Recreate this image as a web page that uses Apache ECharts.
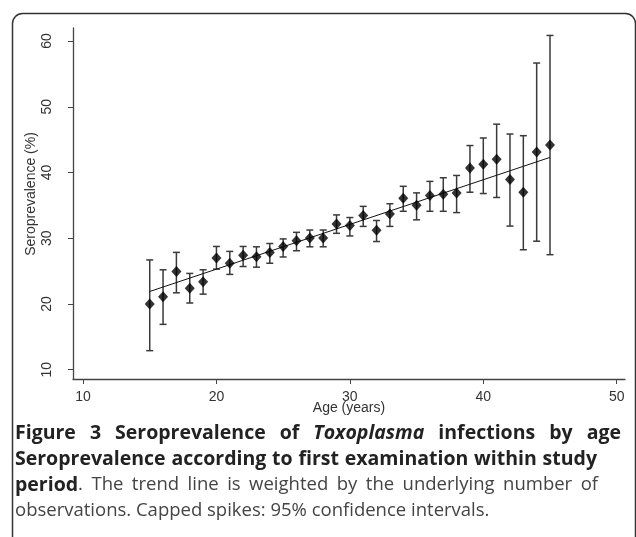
<!DOCTYPE html>
<html>
<head>
<meta charset="utf-8">
<script src="https://cdn.jsdelivr.net/npm/echarts@6/dist/echarts.min.js"></script>
<style>
  html, body { margin: 0; padding: 0; background: #fff; }
  #chart { width: 636px; height: 537px; }
</style>
</head>
<body>
<div id="chart"></div>
<script>
// 年龄（岁）
var ages = [15, 16, 17, 18, 19, 20, 21, 22, 23, 24, 25, 26, 27, 28, 29, 30,
            31, 32, 33, 34, 35, 36, 37, 38, 39, 40, 41, 42, 43, 44, 45];
// 血清阳性率 (%)
var prevalence = [20.0, 21.1, 24.95, 22.4, 23.4, 27.0, 26.2, 27.4, 27.2, 27.85, 28.75, 29.6, 30.05, 30.05, 32.15, 31.95,
                  33.45, 31.2, 33.7, 36.1, 35.0, 36.5, 36.7, 36.9, 40.7, 41.25, 42.0, 38.95, 37.0, 43.1, 44.2];
// 95% 置信区间
var ciLower = [12.9, 16.9, 21.7, 20.15, 21.5, 25.3, 24.5, 25.7, 25.6, 26.2, 27.15, 28.1, 28.7, 28.7, 30.75, 30.35,
               31.8, 29.5, 31.8, 34.1, 32.8, 34.1, 34.1, 33.9, 37.0, 36.8, 36.2, 31.85, 28.25, 29.55, 27.5];
var ciUpper = [26.7, 25.2, 27.85, 24.65, 25.2, 28.75, 28.0, 28.75, 28.7, 29.2, 29.9, 30.9, 31.25, 31.25, 33.55, 33.15,
               34.85, 32.7, 35.25, 37.9, 36.9, 38.65, 39.2, 39.55, 44.1, 45.25, 47.35, 45.85, 45.6, 56.65, 60.85];
// 趋势线
var trendAges = [15, 45];
var trendValues = [21.9, 42.3];
// 刻度
var xTicks = [10, 20, 30, 40, 50];
var yTicks = [10, 20, 30, 40, 50, 60];

(function () {
    var axisFont = 'Liberation Sans, Arial, sans-serif';
    var capFont = '"Open Sans", "Noto Sans", sans-serif';

    var points = ages.map(function (a, i) { return [a, prevalence[i]]; });
    var bars = ages.map(function (a, i) { return [a, ciLower[i], ciUpper[i]]; });
    var trend = trendAges.map(function (a, i) { return [a, trendValues[i]]; });

    // 误差线（带帽）
    function renderBar(params, api) {
        var x = api.value(0);
        var top = api.coord([x, api.value(2)]);
        var bot = api.coord([x, api.value(1)]);
        var w = 3.5;
        var st = { stroke: '#3a3a3a', lineWidth: 1.5 };
        return {
            type: 'group',
            children: [
                { type: 'line', shape: { x1: top[0], y1: top[1], x2: bot[0], y2: bot[1] }, style: st },
                { type: 'line', shape: { x1: top[0] - w, y1: top[1], x2: top[0] + w, y2: top[1] }, style: st },
                { type: 'line', shape: { x1: bot[0] - w, y1: bot[1], x2: bot[0] + w, y2: bot[1] }, style: st }
            ]
        };
    }

    // 图注文字样式
    var styles = {
        b: { fontFamily: capFont, fontWeight: 'bold', fontSize: 19.5, fill: '#222' },
        bi: { fontFamily: capFont, fontWeight: 'bold', fontStyle: 'italic', fontSize: 19.5, fill: '#222' },
        r: { fontFamily: capFont, fontSize: 18.5, fill: '#444' }
    };
    var ctx = document.createElement('canvas').getContext('2d');
    function textW(key, text) {
        var s = styles[key];
        ctx.font = (s.fontStyle || 'normal') + ' ' + (s.fontWeight || 'normal') + ' ' + s.fontSize + 'px ' + s.fontFamily;
        return ctx.measureText(text).width;
    }
    // 按目标宽度两端对齐一行
    function captionLine(segs, y, target) {
        var out = '', wordsW = 0, gaps = 0;
        segs.forEach(function (s) {
            s[1].split(' ').forEach(function (p, i) {
                if (i > 0) { out += '{sp|\u00a0}'; gaps++; }
                if (p) { out += '{' + s[0] + '|' + p + '}'; wordsW += textW(s[0], p); }
            });
        });
        var sp = target ? (target - wordsW) / gaps : textW(segs[0][0], ' ');
        var rich = { sp: { width: sp, fontFamily: capFont, fontSize: 19.5 } };
        for (var k in styles) rich[k] = styles[k];
        return {
            type: 'text', x: 15, y: y,
            style: { text: out, verticalAlign: 'middle', rich: rich }
        };
    }

    var axisLine = { show: true, lineStyle: { color: '#444', width: 1.3 } };

    var option = {
        animation: false,
        grid: { left: 73, top: 28, width: 552, height: 351, containLabel: false },
        xAxis: {
            type: 'value',
            min: 9.25,
            max: 50.62,
            axisLine: axisLine,
            axisTick: { show: true, length: 5, customValues: xTicks, lineStyle: { color: '#444' } },
            axisLabel: { customValues: xTicks, margin: 11, color: '#333', fontFamily: axisFont, fontSize: 14 },
            splitLine: { show: false }
        },
        yAxis: {
            type: 'value',
            min: 8.59,
            max: 61.98,
            axisLine: axisLine,
            axisTick: { show: true, length: 5, customValues: yTicks, lineStyle: { color: '#444' } },
            axisLabel: { customValues: yTicks, rotate: 90, margin: 19, color: '#333', fontFamily: axisFont, fontSize: 14 },
            splitLine: { show: false }
        },
        graphic: [
            // 外框
            {
                type: 'rect', z: 0,
                shape: { x: 12.5, y: 13.5, width: 623, height: 600, r: 10 },
                style: { fill: 'none', stroke: '#333', lineWidth: 1.5 }
            },
            {
                type: 'text', x: 31, y: 194, rotation: Math.PI / 2,
                style: { text: 'Seroprevalence (%)', align: 'center', verticalAlign: 'middle',
                         fill: '#333', font: '14px ' + axisFont }
            },
            {
                type: 'text', x: 349, y: 408,
                style: { text: 'Age (years)', align: 'center', verticalAlign: 'middle',
                         fill: '#333', font: '14px ' + axisFont }
            },
            captionLine([['b', 'Figure 3 Seroprevalence of '], ['bi', 'Toxoplasma'], ['b', ' infections by age']], 433, 606),
            captionLine([['b', 'Seroprevalence according to first examination within study']], 459, 582),
            captionLine([['b', 'period'], ['r', '. The trend line is weighted by the underlying number of']], 485, 583),
            captionLine([['r', 'observations. Capped spikes: 95% confidence intervals.']], 511, 0)
        ],
        series: [
            {
                type: 'custom',
                renderItem: renderBar,
                data: bars,
                z: 2
            },
            {
                type: 'line',
                data: trend,
                symbol: 'none',
                lineStyle: { color: '#111', width: 1 },
                z: 3
            },
            {
                type: 'scatter',
                data: points,
                symbol: 'diamond',
                symbolSize: [10, 11],
                itemStyle: { color: '#000' },
                z: 4
            }
        ]
    };

    var myechart = echarts.init(document.getElementById('chart'));
    myechart.setOption(option);
})();
</script>
</body>
</html>
